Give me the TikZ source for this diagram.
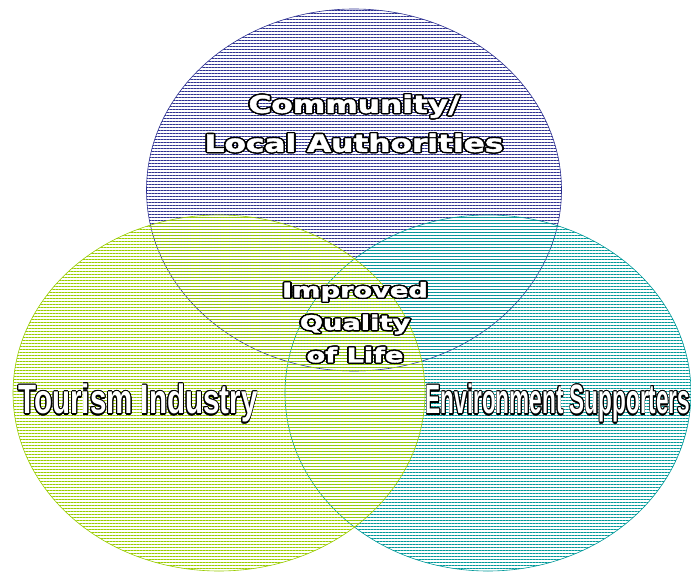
\documentclass[tikz,border=0pt]{standalone}
\usepackage{fontspec}
\usepackage[copies]{contour}
\usetikzlibrary{patterns.meta}

\newfontfamily\blackfont[BoldFeatures={FakeBold=1.6}]{DejaVu Sans}
\newfontfamily\narrowfont{Liberation Sans}

\definecolor{navyhatch}{RGB}{46,49,146}
\definecolor{tealhatch}{RGB}{0,153,153}
\definecolor{limehatch}{RGB}{153,204,0}

% white letters with a black rim, stretched sideways
\contourlength{1.3pt}
\newcommand{\outlined}[2]{\scalebox{#1}[1]{\contour{black}{#2}}}

\tikzset{
  hatched/.style={draw=#1, line width=0.6pt,
    pattern={Lines[angle=0,distance=3pt,line width=1pt]}, pattern color=#1},
  ringlabel/.style={text=white, inner sep=0pt, align=center},
}

\begin{document}
\begin{tikzpicture}[x=1pt,y=-1pt]
            \useasboundingbox (0,0) rectangle (691,572);

            % Draw the three groups, back to front
            \draw[hatched=navyhatch] (354,190) ellipse (207.5 and 181);
            \draw[hatched=tealhatch] (488,393) ellipse (203 and 178);
            \draw[hatched=limehatch] (219,393) ellipse (206 and 178);

            % Top group
            \node[ringlabel, font=\blackfont\bfseries\fontsize{24}{39}\selectfont] (community) at (354,124)
                {\outlined{1.3}{Community/}\\\outlined{1.3}{Local Authorities}};

            % Shared goal in the middle
            \node[ringlabel, font=\blackfont\bfseries\fontsize{20}{32.5}\selectfont] (quality) at (355,323)
                {\outlined{1.36}{Improved}\\\outlined{1.36}{Quality}\\\outlined{1.36}{of Life}};

            % Left and right groups
            \node[ringlabel, font=\narrowfont\bfseries\fontsize{41}{41}\selectfont] (tourism) at (138,404)
                {\outlined{0.72}{Tourism Industry}};
            \node[ringlabel, font=\narrowfont\bfseries\fontsize{41}{41}\selectfont] (environment) at (558,404)
                {\outlined{0.55}{Environment Supporters}};
        \end{tikzpicture}
\end{document}
